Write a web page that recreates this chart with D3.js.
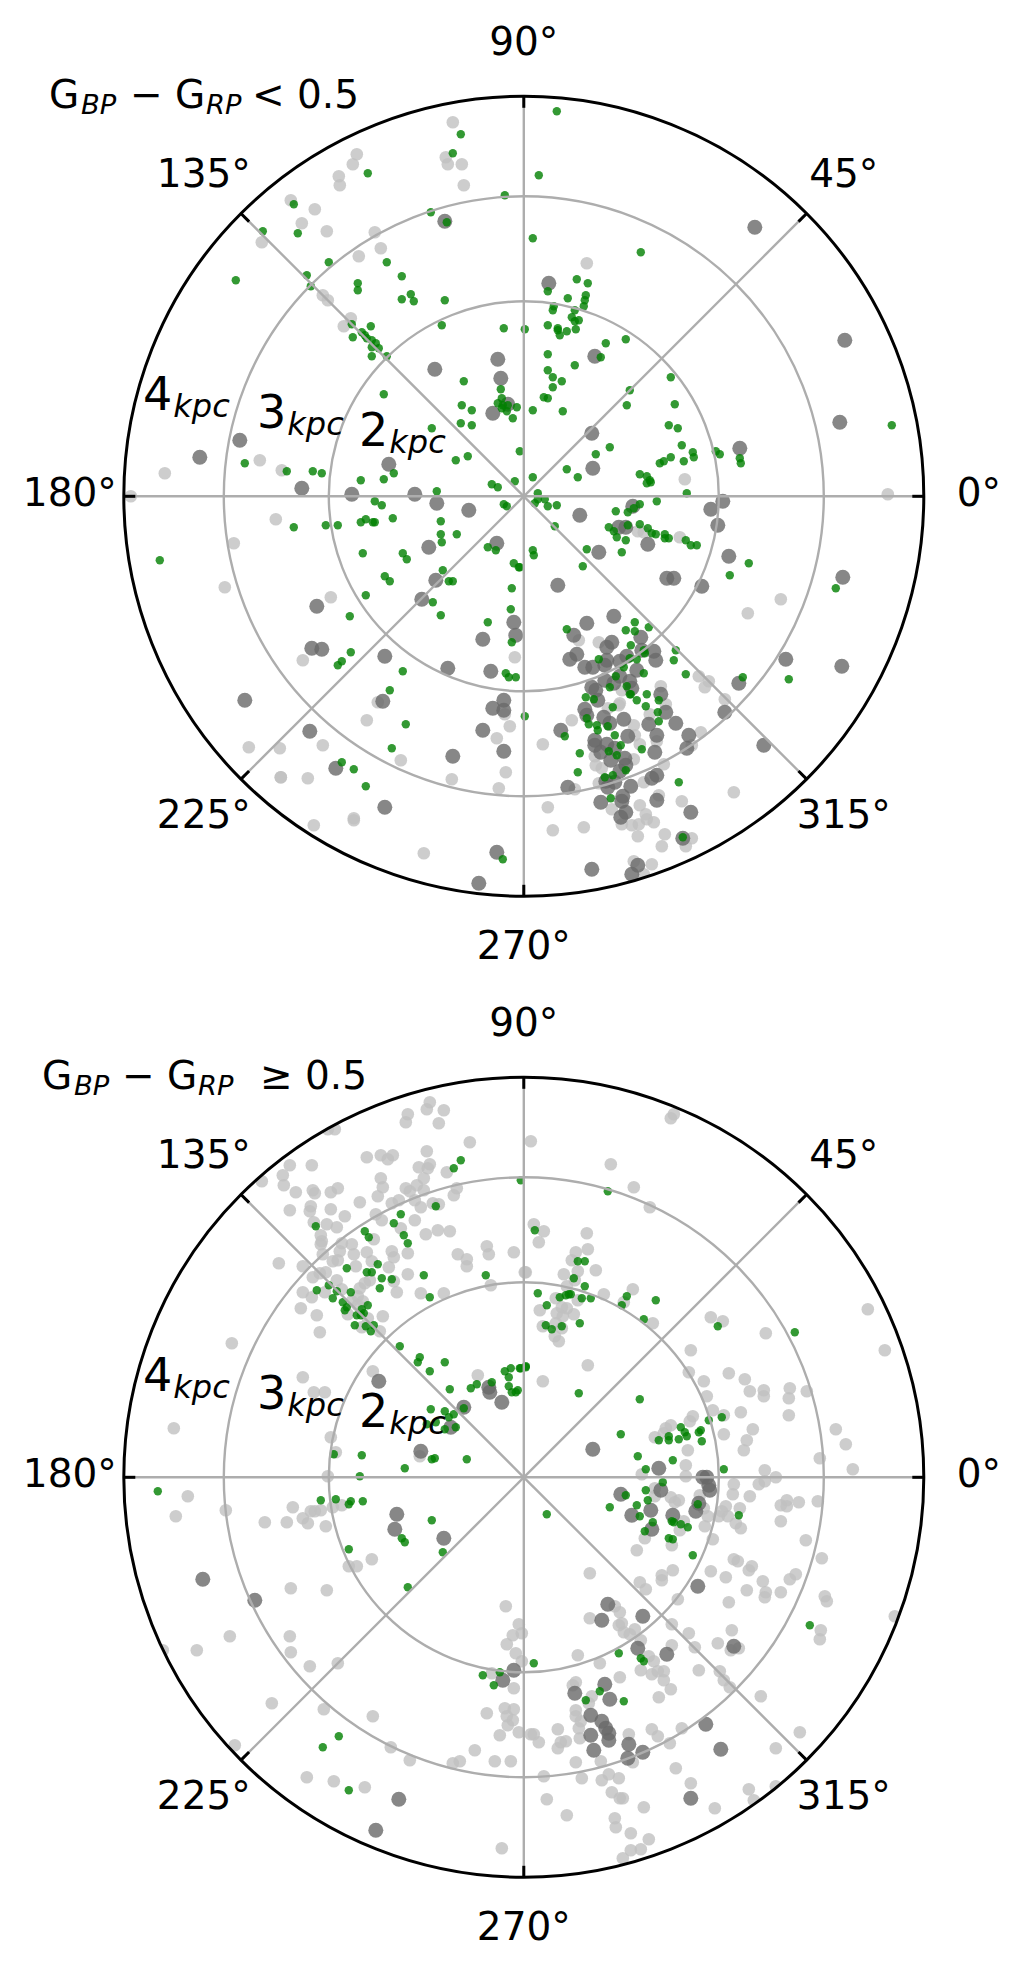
<!DOCTYPE html>
<html><head><meta charset="utf-8">
<script src="https://cdn.jsdelivr.net/npm/d3@7"></script>
<style>html,body{margin:0;padding:0;background:#fff}svg{display:block}text{font-family:"DejaVu Sans";fill:#000}</style>
</head><body><svg id="c" width="1023" height="1974"></svg>
<script>
// Heliocentric coordinates [x, y] in kpc
const topFaint=[[-.71,3.74],[-.78,3.39],[-.76,3.32],[-.62,3.32],[-.60,3.11],[-1.67,3.42],[-1.71,3.32],[-1.85,3.20],[-1.84,3.11],[-2.33,2.96],[-2.09,2.87],[-2.22,2.73],[-1.97,2.65],[-2.62,2.54],[-1.49,2.64],[-1.43,2.48],[-1.65,2.40],[-2.01,2.01],[-1.96,1.96],[-1.73,1.78],[-1.80,1.70],[-2.64,.36],[-2.42,.26],[-3.59,.23],[-3.93,0],[.63,2.33],[1.61,.17],[3.64,.02],
[-2.48,-.23],[-2.90,-.47],[-2.99,-.91],[-1.93,-1.01],[-2.21,-1.64],[-1.46,-2.06],[-1.57,-2.24],[-.09,-1.61],[-.19,-2.18],[-.14,-2.30],[-.27,-2.42],[-2.75,-2.51],[-2.44,-2.52],[-2.01,-2.49],[-1.23,-2.64],[-2.43,-2.81],[-2.43,-2.81],[-2.16,-2.82],[-.72,-2.83],[-.18,-2.76],[-.25,-2.92],[-1.70,-3.22],[-1.70,-3.24],[-2.10,-3.29],[-1.00,-3.57],
[1.14,-.35],[1.20,-.36],[1.56,-.41],[2.57,-1.03],[2.24,-1.17],[.55,-1.44],[.75,-1.46],[1.75,-1.80],[1.85,-1.85],[1.81,-1.91],[2.01,-2.03],[1.37,-1.90],[.96,-2.07],[1.42,-2.08],[.48,-2.24],[.19,-2.48],[1.26,-2.18],[1.10,-2.29],[1.11,-2.39],[1.77,-2.36],[1.16,-2.48],[1.33,-2.45],[1.68,-2.49],[.71,-2.60],[.72,-2.69],[1.10,-2.63],[1.40,-2.68],[.78,-2.72],[.51,-2.93],[.75,-2.87],[1.20,-2.86],[1.35,-2.99],[.24,-3.11],[1.58,-3.05],[2.10,-2.96],[1.16,-3.09],[.88,-3.13],[1.22,-3.18],[1.23,-3.23],[1.30,-3.26],[1.15,-3.28],[1.08,-3.29],[.98,-3.28],[.29,-3.34],[.60,-3.31],[1.14,-3.40],[1.41,-3.38],[1.38,-3.50],[1.68,-3.42],[1.62,-3.50],[1.10,-3.65],[1.28,-3.68],[1.20,-3.78],[.84,-2.12],[.95,-2.09],[.98,-1.94]];
const topDark=[[-.79,2.75],[-.26,1.37],[-.89,1.27],[-.23,1.18],[-.16,.92],[-.31,.83],[-2.84,.56],[-3.24,.39],[-1.35,.32],[-2.22,.08],[-1.72,.02],[-1.09,.02],[-.87,-.07],[-.55,-.14],
[2.31,2.69],[.25,2.13],[.71,1.40],[3.21,1.56],[3.16,.74],[.68,.63],[.69,.28],[2.16,.48],[1.99,-.05],[1.87,-.13],[1.09,-.10],[.56,-.19],
[-.95,-.51],[-.27,-.47],[-.88,-.84],[-1.02,-1.03],[-2.07,-1.10],[-2.12,-1.52],[-2.02,-1.53],[-1.39,-1.60],[-.10,-1.26],[-.08,-1.39],[-.41,-1.43],[-.76,-1.72],[-.33,-1.75],[-2.79,-2.04],[-1.41,-2.05],[-.20,-2.04],[-.31,-2.12],[-.20,-2.14],[-2.14,-2.35],[-.41,-2.34],[-.20,-2.55],[-.71,-2.60],[-1.88,-2.72],[-1.39,-3.11],[-.27,-3.56],[-.45,-3.87],
[.95,-.31],[1.02,-.31],[.75,-.56],[1.24,-.48],[1.94,-.29],[2.05,-.60],[1.43,-.82],[1.50,-.82],[1.78,-.90],[3.19,-.81],[.34,-.89],[.63,-1.27],[.90,-1.20],[.50,-1.39],[1.17,-1.41],[.88,-1.46],[.83,-1.51],[.53,-1.58],[.46,-1.63],[1.30,-1.55],[1.32,-1.64],[1.03,-1.60],[.96,-1.65],[.83,-1.64],[.81,-1.69],[1.18,-1.54],[.61,-1.71],[.69,-1.71],[1.13,-1.74],[2.62,-1.63],[3.18,-1.70],[1.06,-1.85],[.96,-1.80],[.81,-1.84],[.90,-1.87],[1.08,-1.92],[.68,-1.91],[.72,-1.94],[.74,-2.04],[2.15,-1.87],[1.37,-1.98],[2.01,-2.16],[.61,-2.13],[.63,-2.19],[1.42,-2.16],[.80,-2.21],[1.00,-2.23],[.86,-2.27],[.37,-2.34],[1.52,-2.27],[1.25,-2.28],[1.33,-2.39],[1.65,-2.39],[1.04,-2.40],[.71,-2.44],[.71,-2.49],[.83,-2.48],[2.40,-2.49],[1.63,-2.52],[1.31,-2.56],[.77,-2.56],[.91,-2.52],[.87,-2.64],[1.01,-2.62],[1.02,-2.69],[.96,-2.75],[.82,-2.85],[.91,-2.86],[.44,-2.91],[.84,-2.91],[1.07,-2.90],[1.33,-2.79],[1.28,-2.82],[.99,-3.00],[.98,-3.05],[.77,-3.06],[1.33,-3.04],[1.67,-3.16],[1.02,-3.16],[.97,-3.21],[1.59,-3.42],[1.14,-3.69],[1.08,-3.78],[.68,-3.73]];
const topMembers=[[-.63,3.62],[-.71,3.43],[-1.56,3.23],[-2.30,2.92],[-2.26,2.63],[-2.61,2.65],[-2.88,2.16],[-1.95,2.34],[-2.17,2.21],[-2.13,2.10],[-1.66,2.13],[-1.66,2.06],[-1.37,2.34],[-1.22,2.20],[-1.22,1.97],[-1.13,2.02],[-1.10,1.95],[-.79,1.96],[-.93,2.84],[-.77,2.74],[-.19,3.01],[-.82,1.71],[-.20,1.68],[.01,1.67],[-1.53,1.70],[-1.72,1.72],[-1.71,1.59],[-1.62,1.64],[-1.59,1.61],[-1.57,1.58],[-1.52,1.56],[-1.48,1.53],[-1.52,1.49],[-1.45,1.48],[-1.52,1.40],[-1.37,1.40],[-1.40,1.02],[-.60,1.15],[-.23,1.07],[-.62,.91],[-.52,.86],[-.63,.73],[-.52,.71],[-.92,.68],[-.22,.98],[-.26,.93],[-.21,.91],[-.16,.91],[-.22,.88],[-.17,.85],[-.07,.89],[-.11,.78],[-2.79,.33],[-2.37,.25],[-2.11,.25],[-2.02,.23],[-1.63,.16],[-1.40,.17],[-1.30,.23],[-.68,.36],[-.56,.40],[-.04,.45],[-.32,.12],[-.26,.09],[-.09,.15],[-.87,.05],
[.33,3.85],[.15,3.21],[.09,2.58],[1.17,2.44],[.53,2.17],[.64,2.13],[.24,2.05],[.62,2.01],[.61,1.96],[.44,1.98],[.60,1.90],[.30,1.90],[.29,1.86],[.51,1.86],[.48,1.79],[.51,1.75],[.55,1.76],[.24,1.71],[.52,1.67],[.34,1.68],[.34,1.66],[.43,1.65],[.36,1.61],[.82,1.53],[1.02,1.57],[.24,1.42],[.77,1.39],[.51,1.31],[.24,1.26],[.29,1.19],[.38,1.15],[.29,1.09],[.20,.99],[.24,.98],[1.47,1.19],[1.06,1.06],[1.03,.91],[1.51,.92],[.09,.86],[.39,.85],[1.45,.71],[1.54,.68],[3.68,.71],[.86,.49],[.72,.42],[1.58,.51],[1.69,.44],[1.70,.39],[1.47,.39],[1.40,.35],[1.36,.33],[1.60,.35],[1.92,.45],[1.96,.42],[2.16,.38],[2.17,.33],[.43,.27],[.54,.19],[.09,.19],[1.16,.22],[1.23,.20],[1.26,.16],[1.27,.14],[1.23,.13],[1.63,.03],
[.14,.03],[.21,-.03],[.11,-.07],[.24,-.10],[.33,-.09],[.14,-.03],[1.33,-.05],[1.16,-.08],[1.10,-.12],[1.04,-.16],[.92,-.15],[.31,-.30],[.85,-.31],[1.04,-.29],[1.16,-.28],[1.24,-.32],[.90,-.35],[.93,-.41],[1.02,-.44],[1.28,-.37],[1.32,-.38],[1.41,-.38],[1.41,-.42],[1.45,-.42],[1.62,-.44],[1.67,-.49],[1.73,-.49],[.63,-.53],[.98,-.56],[.09,-.54],[.10,-.59],[.59,-.70],[-.04,-.71],[2.25,-.67],[2.06,-.79],[3.12,-.92],
[-1.49,-.05],[-1.42,-.09],[-1.31,-.22],[-1.58,-.23],[-1.63,-.26],[-1.51,-.26],[-1.49,-.26],[-2.30,-.31],[-1.98,-.29],[-1.86,-.29],[-.83,-.25],[-.83,-.38],[-.67,-.38],[-.82,-.46],[-.36,-.51],[-.28,-.54],[-.20,-.08],[-.17,-.10],[-3.64,-.64],[-1.61,-.57],[-1.21,-.57],[-1.17,-.63],[-1.39,-.80],[-1.34,-.85],[-.81,-.74],[-.75,-.85],[-.71,-.85],[-1.58,-.99],[-.91,-1.06],[-.83,-1.19],[-1.74,-1.20],[-1.73,-1.56],[-1.82,-1.65],[-1.86,-1.69],[-1.21,-1.75],[-1.34,-1.94],[-1.18,-2.28],[-1.32,-2.52],[-1.82,-2.66],[-1.70,-2.73],[-1.58,-2.90],[-.10,-.67],[-.05,-.71],[-.12,-.92],[-.13,-1.13],[-.36,-1.26],[-.12,-1.46],[-.18,-1.77],[-.15,-1.81],[-.08,-1.81],[.01,-2.20],[-.21,-3.63],
[.43,-1.33],[1.02,-1.34],[1.11,-1.26],[1.11,-1.35],[1.25,-1.31],[1.07,-1.49],[1.52,-1.54],[1.20,-1.54],[1.21,-1.57],[1.50,-1.64],[.75,-1.63],[1.06,-1.62],[1.13,-1.63],[1.00,-1.71],[1.20,-1.77],[1.62,-1.78],[.92,-1.80],[2.19,-1.81],[2.65,-1.83],[.86,-1.91],[1.03,-1.90],[1.06,-1.98],[1.07,-1.98],[1.23,-1.98],[1.13,-2.04],[.62,-2.01],[.70,-2.03],[1.35,-2.04],[1.22,-2.10],[.89,-2.11],[1.34,-2.16],[1.35,-2.25],[.63,-2.22],[.65,-2.28],[.73,-2.29],[.84,-2.30],[.74,-2.34],[.41,-2.40],[.91,-2.39],[.97,-2.49],[1.18,-2.53],[.85,-2.55],[.56,-2.57],[.93,-2.59],[1.02,-2.74],[.54,-2.76],[.89,-2.79],[.81,-2.81],[1.55,-2.86],[.87,-3.02],[1.59,-3.41]];
const bottomFaint=[[-.94,3.75],[-.97,3.68],[-.80,3.67],[-1.16,3.63],[-1.18,3.55],[-.85,3.54],[-1.89,3.48],[-1.96,3.48],[-.54,3.35],[-.97,3.26],[-1.43,3.22],[-1.31,3.22],[-1.36,3.18],[-1.57,3.20],[-.94,3.13],[-1.05,3.10],[-.96,3.09],[-2.34,3.12],[-2.12,3.12],[-.77,3.05],[-2.41,3.02],[-2.62,2.96],[-2.40,2.92],[-1.43,2.99],[-1.00,2.99],[-1.41,2.90],[-1.86,2.89],[-2.11,2.87],[-2.09,2.84],[-2.28,2.85],[-1.93,2.85],[-1.07,2.92],[-1.18,2.89],[-1.00,2.87],[-.67,2.89],[-.70,2.82],[-1.46,2.81],[-1.14,2.86],[-1.09,2.77],[-1.25,2.77],[-1.32,2.74],[-1.64,2.75],[-2.13,2.71],[-2.14,2.66],[-2.34,2.67],[-1.93,2.68],[-1.03,2.70],[-.91,2.74],[-.85,2.73],[-1.79,2.61],[-1.48,2.63],[-1.42,2.57],[-1.09,2.57],[-1.23,2.49],[-2.10,2.55],[-1.97,2.53],[-1.87,2.50],[-2.03,2.42],[-.98,2.43],[-.86,2.47],[-.74,2.46],[-1.50,2.38],[-2.02,2.36],[-2.03,2.33],[-1.72,2.33],[-1.82,2.34],[-1.84,2.26],[-1.70,2.23],[-1.57,2.25],[-1.32,2.26],[-1.16,2.24],[-1.30,2.20],[-2.01,2.23],[-1.91,2.16],[-1.86,2.17],[-1.52,2.16],[-1.68,2.11],[-1.35,2.10],[-2.45,2.14],[-2.21,2.11],[-.66,2.23],[-.37,2.31],[-.35,2.23],[-.57,2.18],[-.57,2.11],[-.10,2.25],[.01,2.05],[-.33,1.92],[-1.16,2.03],[-1.98,2.05],[-2.11,2.00],[-2.04,2.04],[-1.54,1.97],[-1.59,1.94],[-1.87,1.97],[-1.30,1.96],[-1.64,1.89],[-1.27,1.85],[-1.03,1.84],[-.80,1.84],[-2.21,1.85],[-2.12,1.80],[-1.99,1.85],[-1.82,1.88],[-2.23,1.69],[-2.07,1.62],[-1.66,1.81],[-1.61,1.76],[-1.72,1.76],[-1.66,1.72],[-1.76,1.63],[-1.41,1.61],[-1.56,1.59],[-1.62,1.50],[-1.44,1.46],[-2.04,1.45],[-2.92,1.34],[-3.50,.49],[-1.51,1.06],[-2.21,1.00],[-2.10,.85],[-1.99,.85],[-.46,1.02],[-1.93,.40],[-1.88,.25],[-1.04,.21],[-1.96,.01],
[1.50,3.63],[1.47,3.59],[.07,3.36],[.87,3.13],[1.10,2.90],[1.26,2.70],[.10,2.53],[.20,2.46],[.15,2.35],[.63,2.44],[.64,2.28],[.52,2.25],[.48,2.17],[.72,2.07],[.54,2.06],[.40,2.03],[.02,2.05],[.51,1.97],[.43,1.91],[1.09,1.88],[.80,1.83],[1.00,1.75],[.54,1.77],[.32,1.79],[.16,1.67],[.50,1.63],[.43,1.69],[.38,1.70],[.33,1.64],[.39,1.61],[.19,1.51],[.38,1.49],[.32,1.54],[.31,1.41],[.35,1.36],[1.29,1.54],[1.87,1.60],[1.99,1.56],[2.42,1.44],[1.67,1.27],[.64,1.12],[.19,.96],[1.65,1.05],[2.05,1.04],[1.80,.96],[2.21,.98],[2.26,.86],[2.40,.87],[2.40,.81],[2.66,.89],[2.65,.79],[2.83,.86],[1.83,.81],[2.17,.65],[2.65,.62],[1.89,.67],[2.00,.62],[1.69,.61],[1.66,.56],[1.47,.52],[1.42,.49],[1.31,.40],[1.40,.44],[2.00,.43],[2.29,.48],[2.23,.37],[2.20,.27],[1.64,.27],[3.12,.48],[3.22,.33],[2.96,.19],[3.29,.08],[2.41,.07],[2.52,0],[3.44,1.68],[3.61,1.27],[1.62,.12],[1.62,.01],[1.18,.03],[2.35,-.07],[2.41,-.04],[2.10,-.07],[1.31,-.11],
[-3.36,-.19],[-3.48,-.39],[-2.98,-.33],[-2.31,-.30],[-2.59,-.45],[-2.37,-.45],[-2.13,-.34],[-2.09,-.34],[-2.03,-.33],[-2.21,-.41],[-2.16,-.46],[-1.98,-.49],[-1.91,-.30],[-1.82,-.28],[-1.52,-.82],[-1.75,-.89],[-1.67,-.89],[-2.33,-1.11],[-1.97,-1.13],[-1.86,-1.86],[-2.14,-1.89],[-2.33,-1.75],[-2.34,-1.59],[-2.94,-1.59],[-3.27,-1.73],[-3.61,-1.73],[-2.52,-2.26],[-2.00,-2.32],[-1.51,-2.39],[-2.89,-2.68],[-1.33,-2.70],[-1.14,-2.83],[-.71,-2.86],[-.64,-2.84],[-.49,-2.73],[-.29,-2.84],[-.13,-2.84],[-.24,-2.58],[-.37,-2.36],[-.19,-2.31],[-.10,-2.32],[-.17,-2.39],[-.11,-2.43],[-.16,-2.48],[-.05,-2.55],[.07,-2.57],[-.18,-1.29],[-.05,-1.47],[-.11,-1.58],[-.02,-1.56],[-.17,-1.67],[-.08,-1.76],[-.02,-1.84],[-.32,-1.96],[-.10,-2.11],[-2.17,-3.00],[-1.90,-3.04],[-1.59,-3.10],[-.22,-3.71],
[2.09,-.17],[2.26,-.19],[1.76,-.18],[1.47,-.20],[1.55,-.23],[1.51,-.25],[2.16,-.31],[2.02,-.29],[1.98,-.34],[2.04,-.39],[1.95,-.39],[1.84,-.39],[1.80,-.31],[2.12,-.46],[2.17,-.51],[1.81,-.49],[1.56,-.53],[1.60,-.44],[1.89,-.62],[1.21,-.61],[1.48,-.68],[1.13,-.73],[1.31,-.19],[2.63,-.23],[2.57,-.28],[2.63,-.29],[2.75,-.25],[2.94,-.24],[2.57,-.44],[2.82,-.63],[2.98,-.81],[2.10,-.82],[2.14,-.84],[2.28,-.89],[2.25,-.93],[1.87,-.94],[2.02,-1.00],[2.72,-.97],[2.66,-1.02],[2.39,-1.04],[2.23,-1.13],[2.57,-1.15],[2.42,-1.15],[2.41,-1.20],[2.05,-1.25],[3.01,-1.19],[3.03,-1.24],[3.71,-1.39],[2.97,-1.53],[2.96,-1.62],[2.08,-1.53],[1.94,-1.66],[2.07,-1.73],[2.15,-1.71],[1.49,-.93],[1.38,-.98],[1.38,-1.03],[1.16,-1.05],[1.22,-1.12],[1.54,-1.22],[.66,-.96],[1.48,-1.47],[1.65,-1.56],[1.48,-1.68],[1.71,-1.70],[1.75,-1.93],[1.96,-1.94],[2.00,-2.03],[2.06,-2.10],[2.37,-2.19],[.91,-1.29],[.96,-1.35],[.66,-1.41],[.98,-1.46],[.95,-1.48],[1.11,-1.52],[1.00,-1.55],[1.06,-1.57],[1.17,-1.63],[.54,-1.78],[.76,-1.86],[1.25,-1.79],[1.30,-1.84],[1.17,-1.93],[1.28,-1.97],[1.34,-1.94],[1.40,-1.94],[1.40,-2.03],[1.47,-2.12],[1.35,-2.20],[.96,-2.00],[.52,-2.05],[.49,-2.08],[.68,-2.19],[.65,-2.26],[.52,-2.33],[.52,-2.39],[.57,-2.44],[.55,-2.51],[.56,-2.61],[.34,-2.52],[.10,-2.57],[.15,-2.65],[.37,-2.65],[.42,-2.64],[.34,-2.71],[1.05,-2.57],[1.28,-2.52],[1.34,-2.59],[1.58,-2.51],[1.46,-2.66],[1.09,-2.85],[.77,-2.84],[.52,-2.85],[.20,-2.99],[.58,-3.01],[.78,-3.03],[.85,-2.97],[.95,-3.01],[1.52,-2.91],[1.67,-3.06],[.88,-3.15],[.96,-3.21],[.99,-3.21],[.23,-3.22],[1.20,-3.30],[1.91,-3.31],[.43,-3.38],[.91,-3.41],[.92,-3.50],[1.07,-3.56],[1.25,-3.62],[1.17,-3.72],[1.07,-3.73],[.99,-3.81],[2.25,-3.12],[2.52,-3.09],[2.30,-3.23],[2.76,-2.55],[2.52,-2.71]];
const bottomDark=[[-1.45,.96],[-.35,.90],[-.34,.85],[-.22,.75],[-.60,.70],[-.73,.50],[-1.03,.26],[.69,.28],[1.35,.09],[1.79,0],[1.83,0],[1.85,-.08],[1.86,-.13],[1.37,-.13],[.97,-.17],
[-1.27,-.37],[-1.29,-.52],[-.80,-.61],[-3.21,-1.02],[-2.69,-1.23],[-.10,-1.93],[-.21,-2.03],[-1.25,-3.22],[-1.48,-3.53],
[1.75,-.26],[1.72,-.34],[1.27,-.33],[1.08,-.38],[1.49,-.38],[1.28,-.52],[1.74,-1.09],[.84,-1.27],[.78,-1.43],[1.19,-1.39],[2.10,-1.69],[1.14,-1.71],[1.43,-1.77],[.81,-2.07],[.51,-2.16],[.86,-2.22],[.67,-2.38],[.78,-2.44],[.82,-2.51],[.85,-2.56],[.67,-2.58],[.85,-2.63],[.70,-2.73],[1.05,-2.67],[1.19,-2.75],[1.04,-2.81],[1.82,-2.47],[1.97,-2.72],[1.67,-3.21]];
const bottomMembers=[[-.63,3.17],[-.70,3.09],[-.03,2.97],[-.88,2.71],[-1.23,2.63],[-1.30,2.54],[-2.08,2.51],[-1.59,2.46],[-1.55,2.40],[-1.20,2.42],[-1.16,2.34],[-1.46,2.13],[-1.77,2.09],[-1.57,2.05],[-1.52,2.05],[-1.00,2.02],[-.38,2.02],[-1.42,1.99],[-1.32,1.98],[-1.44,1.89],[-.94,1.80],[-2.07,1.87],[-1.95,1.92],[-1.87,1.86],[-1.91,1.79],[-1.73,1.85],[-1.81,1.75],[-1.77,1.70],[-1.79,1.67],[-1.56,1.72],[-1.62,1.68],[-1.60,1.64],[-1.67,1.62],[-1.63,1.62],[-1.69,1.52],[-1.58,1.51],[-1.50,1.52],[-1.53,1.46],[-1.24,1.31],[-1.04,1.20],[-1.06,1.15],[-.94,1.06],[-.79,1.15],[-.74,.88],[-.53,.89],[-.47,.93],[-.32,.95],[-.19,1.06],[-.13,1.09],[-.15,1.00],[-.04,1.09],[.02,1.10],[-.15,.91],[-.12,.85],[-.06,.87],[-.08,.85],[-.60,.69],[-.93,.68],[-.79,.66],[-.75,.60],[-.70,.63],[-.88,.55],[-.97,.53],[-.68,.50],[-.79,.48],[-1.90,.23],[-1.62,.22],[-.92,.18],[-.89,.19],[-.57,.18],[-1.19,.09],[-1.64,.01],
[-3.66,-.14],[-2.03,-.23],[-1.88,-.22],[-1.73,-.24],[-1.75,-.27],[-1.61,-.24],[-.92,-.43],[-1.22,-.61],[-1.19,-.65],[-.81,-.75],[-1.75,-.72],[-1.16,-1.10],[-.41,-1.98],[-.24,-1.95],[-.30,-2.08],[-1.85,-2.59],[-2.01,-2.70],[-1.75,-3.13],
[.84,2.86],[.11,2.47],[.54,2.16],[.61,2.16],[.50,1.99],[.61,1.91],[.14,1.84],[.23,1.72],[.36,1.80],[.42,1.82],[.45,1.83],[.47,1.83],[.58,1.79],[.67,1.79],[1.03,1.81],[.98,1.72],[1.32,1.77],[1.20,1.58],[1.94,1.51],[2.71,1.45],[.56,1.54],[.22,1.52],[.28,1.48],[.38,1.51],[.02,1.11],[-.03,1.09],[.55,.84],[1.16,.78],[1.98,.60],[1.85,.57],[1.57,.50],[1.77,.47],[1.75,.45],[1.61,.45],[1.63,.41],[1.45,.41],[1.45,.37],[1.55,.38],[1.35,.37],[1.78,.36],[.97,.43],[1.14,.21],[1.49,.17],[1.22,.08],[2.00,.08],[1.39,-.05],
[1.22,-.13],[1.02,-.18],[1.24,-.23],[1.13,-.28],[.86,-.30],[.23,-.37],[1.16,-.39],[1.29,-.45],[1.21,-.54],[1.74,-.27],[2.15,-.38],[1.48,-.44],[1.50,-.45],[1.57,-.47],[1.64,-.50],[1.45,-.61],[1.49,-.62],[1.69,-.78],[2.86,-1.48],[.95,-1.76],[.10,-1.86],[1.17,-1.81],[1.20,-1.84],[.76,-2.14],[.62,-2.23],[1.00,-2.24]];

// Axis values
const ringKpc=[1.95,3,4];
const spokeDeg=[0,45,90,135,180,225,270,315];
const rMax=4;

const svg=d3.select("#c");
const defs=svg.append("defs");
const GRID="#adadad";

function panel(idx,cy,faint,dark,members,titleParts,titleY){
  const cx=523.8,R=400;
  const x=d3.scaleLinear().domain([-rMax,rMax]).range([cx-R,cx+R]);
  const y=d3.scaleLinear().domain([-rMax,rMax]).range([cy+R,cy-R]);
  const r=d3.scaleLinear().domain([0,rMax]).range([0,R]);
  defs.append("clipPath").attr("id","clip"+idx).append("circle").attr("cx",cx).attr("cy",cy).attr("r",R);
  const g=svg.append("g");
  const pts=g.append("g").attr("clip-path",`url(#clip${idx})`);
  const layer=(data,rad,fill,op)=>pts.append("g").selectAll("circle").data(data).join("circle")
    .attr("cx",d=>x(d[0])).attr("cy",d=>y(d[1])).attr("r",rad).attr("fill",fill).attr("fill-opacity",op);
  layer(faint,6.3,"#c0c0c0",.8);
  layer(dark,7.5,"#696969",.8);
  layer(members,4.2,"#008000",.8);
  // grid
  g.append("g").selectAll("circle").data(ringKpc.slice(0,2)).join("circle")
    .attr("cx",cx).attr("cy",cy).attr("r",d=>r(d)).attr("fill","none").attr("stroke",GRID).attr("stroke-width",2.4);
  const rad=d3.scaleLinear().domain([0,360]).range([0,2*Math.PI]);
  g.append("g").selectAll("line").data(spokeDeg).join("line")
    .attr("x1",cx).attr("y1",cy)
    .attr("x2",d=>cx+r(rMax)*Math.cos(rad(d))).attr("y2",d=>cy-r(rMax)*Math.sin(rad(d)))
    .attr("stroke",GRID).attr("stroke-width",2.4);
  g.append("g").selectAll("line").data(spokeDeg).join("line")
    .attr("x1",d=>cx+(R-11.5)*Math.cos(rad(d))).attr("y1",d=>cy-(R-11.5)*Math.sin(rad(d)))
    .attr("x2",d=>cx+R*Math.cos(rad(d))).attr("y2",d=>cy-R*Math.sin(rad(d)))
    .attr("stroke","#000").attr("stroke-width",3);
  g.append("circle").attr("cx",cx).attr("cy",cy).attr("r",R).attr("fill","none").attr("stroke","#000").attr("stroke-width",3);
  // angle labels: [deg, centre dx, baseline dy]
  const labs=[[0,455,10],[45,320,-309],[90,0,-441],[135,-320,-309],[180,-454,10],[225,-320,332],[270,0,463],[315,320,332]];
  g.append("g").selectAll("text").data(labs).join("text")
    .attr("x",d=>cx+d[1]).attr("y",d=>cy+d[2]).attr("text-anchor","middle").attr("font-size",39).text(d=>d[0]+"°");
  // radial labels
  const radial=[["4",143,-86],["3",257,-68],["2",359,-50]];
  radial.forEach(d=>{
    const t=g.append("text").attr("x",d[1]).attr("y",cy+d[2]).attr("font-size",46);
    t.append("tspan").text(d[0]);
    t.append("tspan").attr("dy",7).attr("dx",1).attr("font-size",32).attr("font-style","italic").text("kpc");
  });
  // title
  const t=g.append("text").attr("y",titleY).attr("font-size",39);
  titleParts.forEach(p=>{
    const s=t.append("tspan").attr("x",p.x).attr("y",titleY+(p.sub?6:0)).text(p.t);
    if(p.sub)s.attr("font-size",27.3).attr("font-style","italic");
  });
}
panel(0,496.3,topFaint,topDark,topMembers,
 [{t:"G",x:49},{t:"BP",x:81,sub:1},{t:"\u2212",x:130},{t:"G",x:175},{t:"RP",x:206,sub:1},{t:"<",x:252},{t:"0.5",x:297}],108);
panel(1,1477.3,bottomFaint,bottomDark,bottomMembers,
 [{t:"G",x:42},{t:"BP",x:74,sub:1},{t:"\u2212",x:122},{t:"G",x:167},{t:"RP",x:198,sub:1},{t:"\u2265",x:260},{t:"0.5",x:305}],1089);
</script></body></html>
